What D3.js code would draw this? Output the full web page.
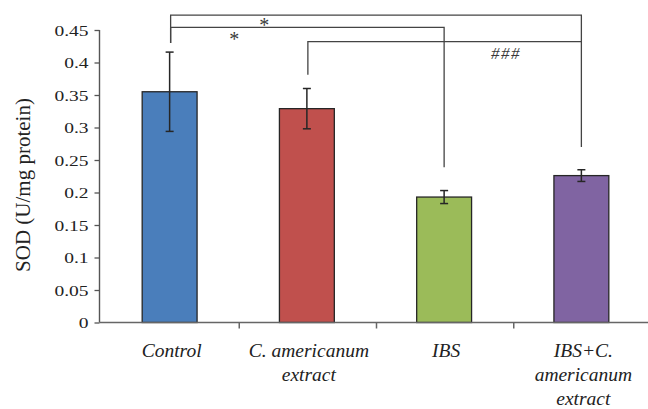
<!DOCTYPE html>
<html>
<head>
<meta charset="utf-8">
<script src="https://cdn.jsdelivr.net/npm/d3@7"></script>
<style>
  html, body { margin: 0; padding: 0; background: #fff; }
  svg { display: block; }
</style>
</head>
<body>
<svg id="chart" width="648" height="409"></svg>
<script>
// Superoxide dismutase activity by treatment group
const categories = ["Control", "C. americanum extract", "IBS", "IBS+C. americanum extract"];
const categoryLines = [["Control"], ["C. americanum", "extract"], ["IBS"], ["IBS+C.", "americanum", "extract"]];
const sodMeans = [0.355, 0.329, 0.193, 0.226];
const sodErrors = [0.061, 0.031, 0.010, 0.009];
const barColors = ["#4a7ebb", "#c0504d", "#9bbb59", "#8064a2"];
const yTicks = [0, 0.05, 0.1, 0.15, 0.2, 0.25, 0.3, 0.35, 0.4, 0.45];
const yTickLabels = ["0", "0.05", "0.1", "0.15", "0.2", "0.25", "0.3", "0.35", "0.4", "0.45"];

// Significance brackets: groups compared, bracket level, and where each leg stops (in U/mg protein)
const bracketFrom = [0, 0, 1];
const bracketTo = [3, 2, 3];
const bracketLevel = [0.473, 0.454, 0.432];
const bracketLegFrom = [0.430, 0.430, 0.381];
const bracketLegTo = [0.270, 0.239, 0.432];

// Significance marks: text, position along the category axis (index units), baseline level
const markText = ["*", "*", "###"];
const markIndex = [0.69, 0.47, 2.45];
const markLevel = [0.447, 0.425, 0.406];

const svg = d3.select("#chart");
const axisLeftX = 99.5;
const x = d3.scaleBand().domain(d3.range(categories.length)).range([101, 650]).padding(0);
const y = d3.scaleLinear().domain([0, 0.45]).range([322.5, 30]);
const barW = x.bandwidth() * 0.4;
const cx = i => x(i) + x.bandwidth() / 2;
const cxf = f => x(0) + x.bandwidth() / 2 + f * x.step();

const serif = "'Liberation Serif', 'DejaVu Serif', serif";

// Bars
svg.append("g").selectAll("rect")
  .data(sodMeans)
  .join("rect")
  .attr("x", (d, i) => cx(i) - barW / 2)
  .attr("y", d => y(d))
  .attr("width", barW)
  .attr("height", d => y(0) - y(d))
  .attr("fill", (d, i) => barColors[i])
  .attr("stroke", "#262626")
  .attr("stroke-width", 1.3);

// Error bars
const eg = svg.append("g").attr("stroke", "#262626").attr("stroke-width", 1.5);
sodMeans.forEach((m, i) => {
  const e = sodErrors[i];
  const xc = cx(i);
  eg.append("line").attr("x1", xc).attr("x2", xc).attr("y1", y(m + e)).attr("y2", y(m - e));
  eg.append("line").attr("x1", xc - 4).attr("x2", xc + 4).attr("y1", y(m + e)).attr("y2", y(m + e));
  eg.append("line").attr("x1", xc - 4).attr("x2", xc + 4).attr("y1", y(m - e)).attr("y2", y(m - e));
});

// Y axis
const yAxis = d3.axisLeft(y)
  .tickValues(yTicks)
  .tickFormat((d, i) => yTickLabels[i])
  .tickSize(5)
  .tickPadding(6);
const yg = svg.append("g").attr("transform", `translate(${axisLeftX},0)`).call(yAxis);
yg.select(".domain").attr("stroke", "#555").attr("stroke-width", 1.4).attr("d", `M0,${y(0.45)}V${y(0)}`);
yg.selectAll(".tick line").attr("stroke", "#555").attr("stroke-width", 1.3);
const sx = 1.3;
yg.selectAll(".tick text")
  .attr("font-family", serif)
  .attr("font-size", 15)
  .attr("fill", "#222")
  .attr("x", -11 / sx)
  .attr("dy", "0.34em")
  .attr("transform", `scale(${sx},1)`);

// X axis line and ticks at category boundaries
const xg = svg.append("g").attr("stroke", "#666").attr("stroke-width", 1.5);
xg.append("line").attr("x1", axisLeftX).attr("x2", 648).attr("y1", y(0)).attr("y2", y(0));
d3.range(1, categories.length).forEach(i => {
  xg.append("line").attr("x1", x(i) + 1).attr("x2", x(i) + 1).attr("y1", y(0)).attr("y2", y(0) + 6);
});

// Category labels
const lg = svg.append("g")
  .attr("font-family", serif)
  .attr("font-style", "italic")
  .attr("font-size", 19.5)
  .attr("fill", "#222")
  .attr("text-anchor", "middle");
categoryLines.forEach((lines, i) => {
  lines.forEach((t, k) => {
    lg.append("text").attr("x", cx(i) + 2).attr("y", 357 + k * 24).text(t);
  });
});

// Y axis title
svg.append("text")
  .attr("transform", `translate(30,185) rotate(-90)`)
  .attr("text-anchor", "middle")
  .attr("font-family", serif)
  .attr("font-size", 21)
  .attr("fill", "#222")
  .text("SOD (U/mg protein)");

// Significance brackets
const bg = svg.append("g").attr("stroke", "#444").attr("stroke-width", 1.3).attr("fill", "none");
bracketFrom.forEach((a, k) => {
  const b = bracketTo[k];
  const x1 = cx(a) + 1, x2 = cx(b);
  const path = d3.path();
  path.moveTo(x1, y(bracketLegFrom[k]));
  path.lineTo(x1, y(bracketLevel[k]));
  path.lineTo(x2, y(bracketLevel[k]));
  path.lineTo(x2, y(bracketLegTo[k]));
  bg.append("path").attr("d", path.toString());
});

// Significance marks
markText.forEach((t, k) => {
  const star = t === "*";
  svg.append("text")
    .attr("x", cxf(markIndex[k]))
    .attr("y", y(markLevel[k]))
    .attr("text-anchor", "middle")
    .attr("font-family", serif)
    .attr("font-size", star ? 20 : 17)
    .attr("font-style", star ? "normal" : "italic")
    .attr("letter-spacing", star ? 0 : 1.5)
    .attr("fill", "#3a3a3a")
    .text(t);
});
</script>
</body>
</html>
